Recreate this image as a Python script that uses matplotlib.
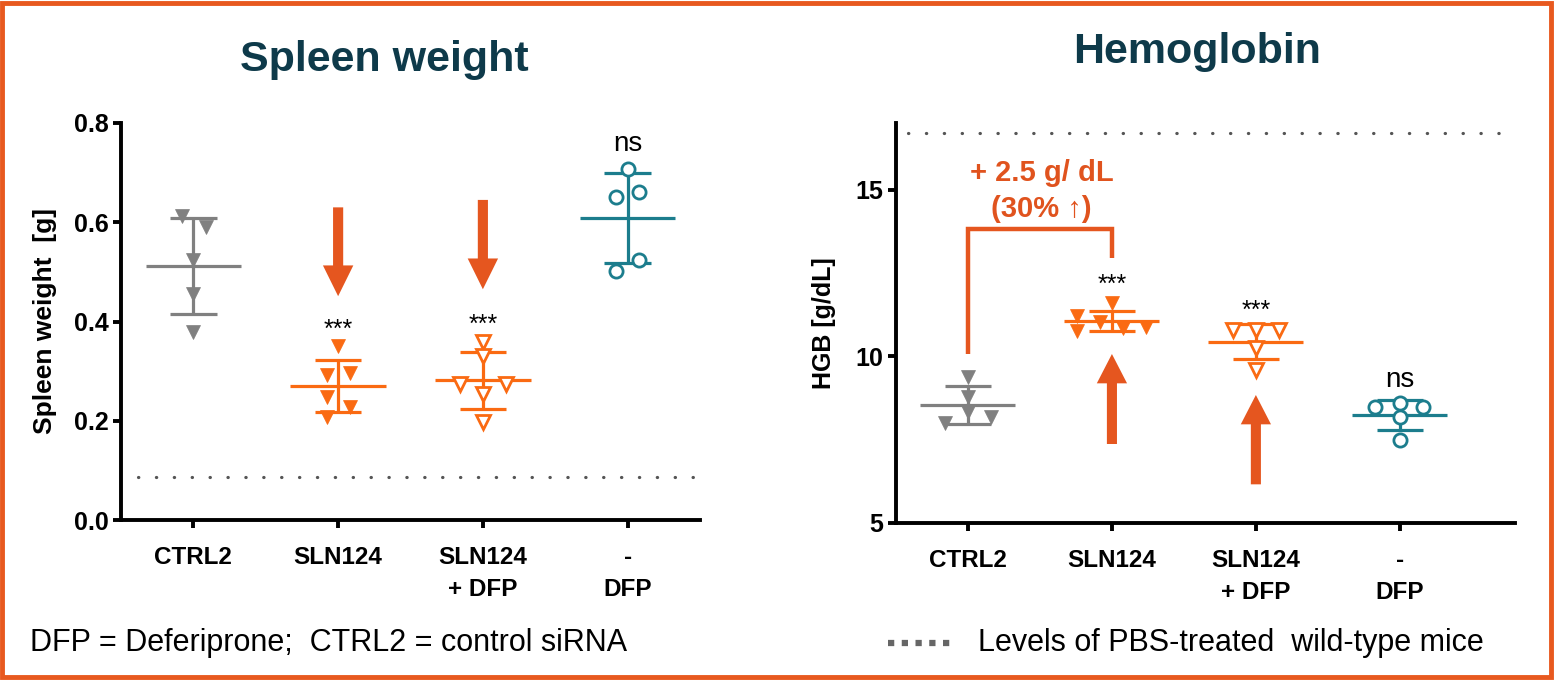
import numpy as np
import matplotlib
matplotlib.use("Agg")
import matplotlib.pyplot as plt
from matplotlib.patches import Rectangle, FancyArrow
from matplotlib.lines import Line2D

plt.rcParams['font.family'] = ['Liberation Sans', 'DejaVu Sans']

# ---------------- data ----------------
categories = ['CTRL2', 'SLN124', 'SLN124\n+ DFP', '-\nDFP']

spleen_ctrl2 = [0.613, 0.591, 0.524, 0.455, 0.379]
spleen_sln124 = [0.351, 0.292, 0.297, 0.247, 0.227, 0.208]
spleen_sln124_dfp = [0.359, 0.330, 0.274, 0.274, 0.254, 0.198]
spleen_dfp = [0.707, 0.650, 0.660, 0.524, 0.502]

hgb_ctrl2 = [9.39, 8.79, 8.34, 7.99, 8.19]
hgb_sln124 = [11.59, 11.22, 10.76, 11.04, 10.86, 10.89]
hgb_sln124_dfp = [10.79, 10.79, 10.79, 10.24, 9.59]
hgb_dfp = [8.47, 8.59, 8.47, 8.19, 7.49]

spleen_wt_level = 0.087
hgb_wt_level = 16.7

spleen_sig = ['', '***', '***', 'ns']
hgb_sig = ['', '***', '***', 'ns']

# ---------------- layout / style ----------------
spleen_jitter = [[-0.08, 0.09, 0, 0, 0],
                 [0, -0.08, 0.08, -0.08, 0.08, -0.08],
                 [0, 0, -0.16, 0.16, 0, 0],
                 [0, -0.08, 0.08, 0.08, -0.08]]
hgb_jitter = [[0, 0, 0, -0.16, 0.16],
              [0, -0.24, -0.24, -0.08, 0.08, 0.24],
              [-0.16, 0, 0.16, 0, 0],
              [-0.17, 0, 0.16, 0, 0]]

GRAY = '#808080'
ORANGE = '#FA6A12'
ARROW = '#E5561F'
TEAL = '#1C7D8D'
TITLE = '#0E3A4A'
BORDER = '#E8591F'

styles = [dict(color=GRAY, marker='v', filled=True),
          dict(color=ORANGE, marker='v', filled=True),
          dict(color=ORANGE, marker='v', filled=False),
          dict(color=TEAL, marker='o', filled=False)]

fig = plt.figure(figsize=(15.56, 6.81), dpi=100)
W, H = 1556, 681

def fig_axes(x0, y0, x1, y1):
    return fig.add_axes([x0 / W, 1 - y1 / H, (x1 - x0) / W, (y1 - y0) / H])

ax1 = fig_axes(121, 123, 700, 520)
ax2 = fig_axes(896, 123, 1515, 523)


def draw_panel(ax, groups, jitters, sig, sig_y):
    for i, (vals, jit, st) in enumerate(zip(groups, jitters, styles)):
        vals = np.asarray(vals)
        m = vals.mean()
        sd = vals.std(ddof=1)
        c = st['color']
        ax.plot([i, i], [m - sd, m + sd], color=c, lw=2.3, zorder=2, solid_capstyle='butt')
        ax.plot([i - 0.33, i + 0.33], [m, m], color=c, lw=2.3, zorder=2, solid_capstyle='butt')
        for yy in (m - sd, m + sd):
            ax.plot([i - 0.16, i + 0.16], [yy, yy], color=c, lw=2.3, zorder=2, solid_capstyle='butt')
        xs = i + np.asarray(jit)
        if st['filled']:
            ax.plot(xs, vals, ls='none', marker=st['marker'], ms=10.5, mfc=c, mec=c, mew=0.5, zorder=3)
        else:
            ax.plot(xs, vals, ls='none', marker=st['marker'], ms=10.5 if st['marker'] == 'v' else 9.5,
                    mfc='white', mec=c, mew=2.0, zorder=3)
        if sig[i]:
            if sig[i] == 'ns':
                ax.text(i, sig_y[i], sig[i], ha='center', va='center', fontsize=20, color='black')
            else:
                ax.text(i, sig_y[i], sig[i], ha='center', va='center', fontsize=18, color='black')


def style_axes(ax, ylim, yticks, yfmt):
    ax.set_ylim(*ylim)
    ax.set_yticks(yticks)
    ax.set_yticklabels([yfmt(v) for v in yticks], fontsize=18, fontweight='bold')
    ax.set_xticks(range(len(categories)))
    ax.set_xticklabels(categories, fontsize=17.5, fontweight='bold', linespacing=1.5)
    for s in ('top', 'right'):
        ax.spines[s].set_visible(False)
    for s in ('left', 'bottom'):
        ax.spines[s].set_linewidth(2.8)
    ax.tick_params(axis='both', width=2.8, length=6, direction='out')
    ax.tick_params(axis='x', pad=13)
    ax.tick_params(axis='y', pad=3)
    ax.set_facecolor('none')


# ---------- Spleen weight ----------
ax1.set_xlim(-0.5, 3.5)
ax1.axhline(spleen_wt_level, xmin=0.03, xmax=1.0, color='#555555', lw=2.3,
            ls=(0, (0.1, 5.5)), dash_capstyle='round', zorder=1)
draw_panel(ax1, [spleen_ctrl2, spleen_sln124, spleen_sln124_dfp, spleen_dfp],
           spleen_jitter, spleen_sig, [None, 0.384, 0.394, 0.758])
style_axes(ax1, (0, 0.8), [0.0, 0.2, 0.4, 0.6, 0.8], lambda v: f'{v:.1f}')
ax1.set_ylabel('Spleen weight  [g]', fontsize=19, fontweight='bold', labelpad=12)

for x, tail, tip in [(1, 0.630, 0.451), (2, 0.645, 0.465)]:
    ax1.add_patch(FancyArrow(x, tail, 0, tip - tail, width=0.07, head_width=0.21,
                             head_length=0.062, length_includes_head=True,
                             color=ARROW, lw=0, zorder=4))

# ---------- Hemoglobin ----------
ax2.set_xlim(-0.5, 3.8)
ax2.axhline(hgb_wt_level, xmin=0.02, xmax=0.99, color='#555555', lw=2.3,
            ls=(0, (0.1, 5.5)), dash_capstyle='round', zorder=1)
draw_panel(ax2, [hgb_ctrl2, hgb_sln124, hgb_sln124_dfp, hgb_dfp],
           hgb_jitter, hgb_sig, [None, 12.15, 11.35, 9.3])
style_axes(ax2, (5, 17), [5, 10, 15], lambda v: f'{v:d}')
ax2.set_ylabel('HGB [g/dL]', fontsize=18, fontweight='bold', labelpad=14)

for x, tail, tip in [(1, 7.37, 10.07), (2, 6.16, 8.84)]:
    ax2.add_patch(FancyArrow(x, tail, 0, tip - tail, width=0.07, head_width=0.21,
                             head_length=0.88, length_includes_head=True,
                             color=ARROW, lw=0, zorder=4))

# bracket
ax2.plot([0, 0, 1, 1], [10.07, 13.81, 13.81, 12.94], color=ARROW, lw=3.2,
         solid_joinstyle='miter', solid_capstyle='butt', zorder=4)
ax2.text(0.51, 15.5, '+ 2.5 g/ dL', ha='center', va='center', fontsize=21,
         fontweight='bold', color='#E0531E')
ax2.text(0.51, 14.42, '(30% ↑)', ha='center', va='center', fontsize=21,
         fontweight='bold', color='#E0531E')

# ---------- titles ----------
fig.text(384 / W, 1 - 60 / H, 'Spleen weight', fontsize=31, fontweight='bold',
         color=TITLE, ha='center', va='center')
fig.text(1197 / W, 1 - 52 / H, 'Hemoglobin', fontsize=31, fontweight='bold',
         color=TITLE, ha='center', va='center')

# ---------- footer ----------
fig.text(30 / W, 1 - 643 / H, 'DFP = Deferiprone;  CTRL2 = control siRNA',
         fontsize=22, ha='left', va='center')
fig.add_artist(Line2D([888 / W, 956 / W], [1 - 643 / H, 1 - 643 / H],
                      transform=fig.transFigure, color='#666666', lw=4.5,
                      dashes=(1.0, 1.2), solid_capstyle='butt'))
fig.text(978 / W, 1 - 643 / H, 'Levels of PBS-treated  wild-type mice',
         fontsize=22, ha='left', va='center')

# ---------- border ----------
fig.patches.append(Rectangle((2 / W, 4 / H), 1 - 7 / W, 1 - 7 / H, transform=fig.transFigure,
                             fill=False, edgecolor=BORDER, lw=3.5, figure=fig))

fig.savefig('out.png', dpi=100, facecolor='white')
